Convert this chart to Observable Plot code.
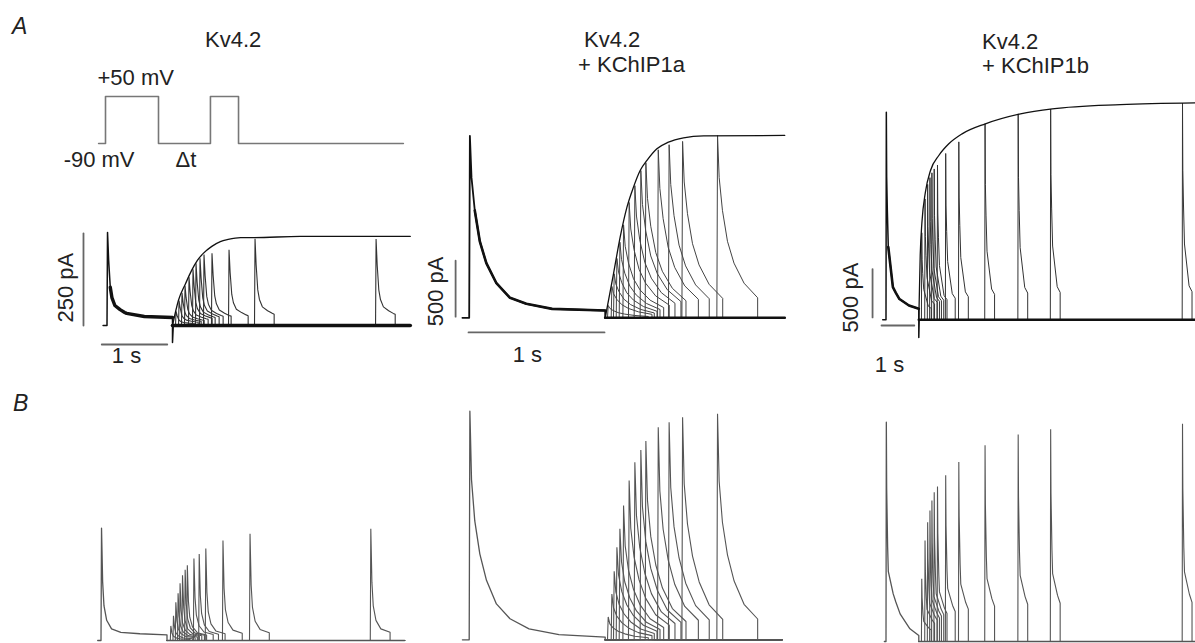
<!DOCTYPE html>
<html><head><meta charset="utf-8">
<script src="https://cdn.jsdelivr.net/npm/d3@7"></script>
<script src="https://cdn.jsdelivr.net/npm/@observablehq/plot@0.6"></script>
<style>
body{margin:0;background:#fff;}
#fig{position:relative;width:1195px;height:643px;overflow:hidden;font-family:"Liberation Sans",Arial,sans-serif;color:#222;background:#fff;}
.lbl{position:absolute;font-size:22px;line-height:22px;white-space:nowrap;}
</style></head><body><div id="fig"></div>
<script>
// ================= DATA =================
// Voltage protocol (arbitrary time units, mV)
const protocolTime = [-0.13, 0, 0, 1, 1, 1.98, 1.98, 2.51, 2.51, 5.62];
const protocolVolt = [-90, -90, 50, 50, -90, -90, 50, 50, -90, -90];
const protocolLabels = ["+50 mV", "-90 mV", "\u0394t"];

// Column titles
const titles1 = ["Kv4.2"];
const titles2 = ["Kv4.2", "+ KChIP1a"];
const titles3 = ["Kv4.2", "+ KChIP1b"];
const panelLetters = ["A", "B"];
const scaleLabels1 = ["250 pA", "1 s"];
const scaleLabels2 = ["500 pA", "1 s"];
const scaleLabels3 = ["500 pA", "1 s"];
const scaleAmp1 = 250, scaleAmp2 = 500, scaleAmp3 = 500, scaleDur = 1; // pA, s

// ---- A: recorded currents (pA), time in s; prepulse 1 s, test pulse 0.3 s ----
// decay shape of a pulse: time since onset (s) and fraction of peak
const decayTimeA1 = [0, 0.008, 0.025, 0.05, 0.075, 0.12, 0.2, 0.27, 0.3, 0.57, 1.0];
const decayFracA1 = [0, 1, 0.70, 0.41, 0.30, 0.215, 0.17, 0.14, 0.13, 0.097, 0.086];
const prePeakA1 = 253;
const intervalsA1 = [0.046, 0.092, 0.137, 0.183, 0.244, 0.305, 0.351, 0.412, 0.473, 0.595, 0.855, 1.252, 3.1];
const testPeaksA1 = [38, 68, 89, 108, 132, 153, 169, 183, 193, 196, 206, 236, 235];
const envTimeA1 = [0, 0.09, 0.2, 0.29, 0.38, 0.47, 0.6, 0.73, 0.85, 1.04, 1.25, 1.95, 3.63];
const envCurrA1 = [0, 68, 114, 149, 177, 196, 215, 228, 234, 239, 239, 242, 242];

const decayTimeA2 = [0, 0.005, 0.017, 0.041, 0.078, 0.126, 0.2, 0.3, 0.42, 0.61, 1.0];
const decayFracA2 = [0, 1, 0.77, 0.59, 0.42, 0.30, 0.19, 0.11, 0.077, 0.049, 0.040];
const prePeakA2 = 1625;
const intervals2 = [0.017, 0.044, 0.061, 0.081, 0.103, 0.13, 0.171, 0.213, 0.257, 0.294, 0.385, 0.465, 0.564, 0.821];
const testPeaksA2 = [110, 280, 393, 530, 675, 830, 1030, 1180, 1315, 1385, 1500, 1545, 1575, 1627];
const envTimeA2 = [0, 0.061, 0.11, 0.16, 0.208, 0.257, 0.307, 0.38, 0.465, 0.576, 0.723, 1.32];
const envCurrA2 = [0, 393, 720, 988, 1167, 1315, 1405, 1509, 1568, 1607, 1625, 1628];

const decayTimeA3 = [0, 0.01, 0.02, 0.04, 0.07, 0.21, 0.3, 0.41, 0.7, 1.0];
const decayFracA3 = [0, 1, 0.69, 0.53, 0.35, 0.157, 0.13, 0.10, 0.069, 0.053];
const prePeakA3 = 2147;
const intervals3 = [0.08, 0.18, 0.26, 0.33, 0.39, 0.46, 0.56, 0.81, 1.21, 2.01, 3.02, 4.01, 8.03];
const testPeaksA3 = [900, 1250, 1400, 1470, 1520, 1560, 1600, 1720, 1840, 2027, 2130, 2180, 2240];
const envTimeA3 = [0, 0.043, 0.095, 0.2, 0.357, 0.61, 0.915, 1.32, 2.03, 3.1, 4.07, 6.15, 8.45];
const envCurrA3 = [0, 665, 1006, 1317, 1544, 1699, 1820, 1923, 2027, 2130, 2182, 2226, 2244];

// ---- B: model currents (fraction of first peak) ----
const decayTimeB1 = [0, 0.008, 0.025, 0.045, 0.086, 0.16, 0.3, 0.59, 1.0];
const decayFracB1 = [0, 1, 0.52, 0.31, 0.18, 0.104, 0.073, 0.06, 0.05];
const intervalsB1 = [0.05, 0.09, 0.126, 0.16, 0.19, 0.227, 0.267, 0.30, 0.40, 0.48, 0.58, 0.84, 1.25, 3.08];
const testPeaksB1 = [0.13, 0.22, 0.34, 0.42, 0.51, 0.58, 0.63, 0.67, 0.73, 0.77, 0.82, 0.89, 0.95, 0.995];

const decayTimeB2 = [0, 0.005, 0.017, 0.041, 0.078, 0.127, 0.2, 0.3, 0.44, 0.66, 1.0];
const decayFracB2 = [0, 1, 0.70, 0.52, 0.376, 0.26, 0.157, 0.092, 0.048, 0.023, 0.012];
const testPeaksB2 = [0.10, 0.20, 0.30, 0.405, 0.486, 0.587, 0.697, 0.777, 0.83, 0.87, 0.93, 0.952, 0.974, 0.989];

const decayTimeB3 = [0, 0.01, 0.02, 0.05, 0.07, 0.22, 0.3, 0.43, 0.73, 1.0];
const decayFracB3 = [0, 1, 0.70, 0.43, 0.32, 0.217, 0.18, 0.126, 0.058, 0.027];
const testPeaksB3 = [0.286, 0.46, 0.544, 0.597, 0.643, 0.681, 0.707, 0.758, 0.819, 0.895, 0.944, 0.968, 0.993];

// ================= LAYOUT (pixels) =================
// x0: pixel of t=0, k: px per s; base: pixel of value 0, s: px per unit
const layout = {
  P:  {left: 40,  top: 60,  w: 380, h: 120, x0: 105,   k: 53,   base: 112.8, s: 0.3357},
  A1: {left: 40,  top: 85,  w: 375, h: 295, x0: 106.5, k: 65.5, base: 325,   s: 0.368},
  A2: {left: 415, top: 85,  w: 385, h: 295, x0: 468.7, k: 136,  base: 317.3, s: 0.112},
  A3: {left: 820, top: 85,  w: 375, h: 295, x0: 885.5, k: 32.8, base: 319.3, s: 0.0967},
  B1: {left: 40,  top: 385, w: 375, h: 258, x0: 100.5, k: 66,   base: 640,   s: 112.3},
  B2: {left: 415, top: 385, w: 385, h: 258, x0: 468.7, k: 136,  base: 639.3, s: 228.6},
  B3: {left: 820, top: 385, w: 375, h: 258, x0: 885.5, k: 32.8, base: 641,   s: 219.3}
};
const FONT = "Liberation Sans, Arial, sans-serif";
const fig = document.getElementById("fig");

function addPlot(g, marks) {
  const tmin = (g.left - g.x0) / g.k, tmax = (g.left + g.w - g.x0) / g.k;
  const vtop = (g.base - g.top) / g.s, vbot = (g.base - g.top - g.h) / g.s;
  const svg = Plot.plot({
    width: g.w, height: g.h, margin: 0,
    x: {domain: [tmin, tmax], axis: null},
    y: {domain: [vbot, vtop], axis: null},
    style: {background: "transparent"},
    marks
  });
  svg.style.position = "absolute";
  svg.style.left = g.left + "px";
  svg.style.top = g.top + "px";
  fig.appendChild(svg);
}

function traceMarks(c) {
  const pre = [{t: c.tPre, v: 0}, {t: 0, v: 0}];
  c.decayT.forEach((t, j) => pre.push({t, v: c.prePeak * c.decayF[j]}));
  pre.push({t: 1, v: 0});
  if (c.spike) { pre.push({t: 1, v: c.spike}); pre.push({t: 1.012, v: 0}); }
  // noisy (thick) part of the prepulse trace: after the fast initial decay
  const preTail = [];
  c.decayT.forEach((t, j) => { if (t >= c.thickFrom) preTail.push({t, v: c.prePeak * c.decayF[j]}); });
  const base = [{t: 1, v: 0}, {t: c.tEnd, v: 0}];
  const tests = [];
  c.dts.forEach((dt, k) => {
    tests.push({z: k, t: 1, v: 0});
    tests.push({z: k, t: 1 + dt, v: 0});
    c.decayT.forEach((t, j) => { if (t <= 0.3 + 1e-9) tests.push({z: k, t: 1 + dt + t, v: c.peaks[k] * c.decayF[j]}); });
    tests.push({z: k, t: 1 + dt + 0.3, v: 0});
    tests.push({z: k, t: c.tEnd, v: 0});
  });
  const marks = [
    Plot.line(tests, {x: "t", y: "v", z: "z", stroke: c.testColor, strokeWidth: c.testWidth, strokeLinejoin: "miter"}),
    Plot.line(base, {x: "t", y: "v", stroke: c.preColor, strokeWidth: c.baseWidth}),
    Plot.line(pre, {x: "t", y: "v", stroke: c.preColor, strokeWidth: c.preWidth}),
    Plot.line(preTail, {x: "t", y: "v", stroke: c.preColor, strokeWidth: c.tailWidth})
  ];
  if (c.envT) {
    const env = c.envT.map((t, j) => ({t: 1 + t, v: c.envV[j]}));
    marks.push(Plot.line(env, {x: "t", y: "v", curve: "monotone-x", stroke: "#111", strokeWidth: 1.3}));
  }
  return marks;
}

function scaleBarMarks(sb, labels) {
  const textOpts = {fontSize: 22, fontFamily: FONT, fill: "#222"};
  return [
    Plot.line([{t: sb.vt, v: sb.v0}, {t: sb.vt, v: sb.v0 + sb.amp}], {x: "t", y: "v", stroke: "#666", strokeWidth: 1.8}),
    Plot.line([{t: sb.h0, v: sb.hv}, {t: sb.h0 + scaleDur, v: sb.hv}], {x: "t", y: "v", stroke: "#666", strokeWidth: 1.8}),
    Plot.text([labels[0]], {x: () => sb.lt, y: () => sb.lv, text: d => d, rotate: -90, ...textOpts}),
    Plot.text([labels[1]], {x: () => sb.st, y: () => sb.sv, text: d => d, ...textOpts})
  ];
}

// ---- protocol ----
{
  const pts = protocolTime.map((t, j) => ({t, v: protocolVolt[j]}));
  const lab = [
    {text: protocolLabels[0], t: -0.151, v: 105},
    {text: protocolLabels[1], t: -0.79, v: -139},
    {text: protocolLabels[2], t: 1.32, v: -139}
  ];
  addPlot(layout.P, [
    Plot.line(pts, {x: "t", y: "v", stroke: "#777", strokeWidth: 1.6}),
    Plot.text(lab, {x: "t", y: "v", text: "text", textAnchor: "start", fontSize: 22, fontFamily: FONT, fill: "#222"})
  ]);
}

// ---- Row A ----
addPlot(layout.A1, [
  ...traceMarks({decayT: decayTimeA1, decayF: decayFracA1, prePeak: prePeakA1, dts: intervalsA1, peaks: testPeaksA1,
    envT: envTimeA1, envV: envCurrA1, tPre: -0.06, tEnd: 4.63, spike: -46, thickFrom: 0.05,
    preColor: "#111", preWidth: 1.5, tailWidth: 3.4, baseWidth: 3.6, testColor: "#333", testWidth: 1.1}),
  ...scaleBarMarks({vt: -0.359, v0: 0, amp: scaleAmp1, h0: -0.08, hv: -51.6, lt: -0.634, lv: 103, st: 0.298, sv: -81.5}, scaleLabels1)
]);
addPlot(layout.A2, [
  ...traceMarks({decayT: decayTimeA2, decayF: decayFracA2, prePeak: prePeakA2, dts: intervals2, peaks: testPeaksA2,
    envT: envTimeA2, envV: envCurrA2, tPre: -0.05, tEnd: 2.32, spike: null, thickFrom: 0.041,
    preColor: "#111", preWidth: 1.8, tailWidth: 2.6, baseWidth: 2.6, testColor: "#444", testWidth: 1}),
  ...scaleBarMarks({vt: -0.1, v0: 10, amp: scaleAmp2, h0: -0.005, hv: -131, lt: -0.248, lv: 236, st: 0.428, sv: -336}, scaleLabels2)
]);
addPlot(layout.A3, [
  ...traceMarks({decayT: decayTimeA3, decayF: decayFracA3, prePeak: prePeakA3, dts: intervals3, peaks: testPeaksA3,
    envT: envTimeA3, envV: envCurrA3, tPre: -0.1, tEnd: 9.6, spike: -183, thickFrom: 0.07,
    preColor: "#111", preWidth: 1.5, tailWidth: 2.6, baseWidth: 2.6, testColor: "#333", testWidth: 1}),
  ...scaleBarMarks({vt: -0.41, v0: 25, amp: scaleAmp3, h0: -0.137, hv: -59, lt: -1.082, lv: 230, st: 0.107, sv: -472}, scaleLabels3)
]);

// ---- Row B ----
addPlot(layout.B1, traceMarks({decayT: decayTimeB1, decayF: decayFracB1, prePeak: 1, dts: intervalsB1, peaks: testPeaksB1,
  envT: null, tPre: -0.05, tEnd: 4.6, spike: null, thickFrom: 2, preColor: "#555", preWidth: 1.3, tailWidth: 1.3, baseWidth: 1.3, testColor: "#555", testWidth: 1.1}));
addPlot(layout.B2, traceMarks({decayT: decayTimeB2, decayF: decayFracB2, prePeak: 1, dts: intervals2, peaks: testPeaksB2,
  envT: null, tPre: -0.05, tEnd: 2.3, spike: null, thickFrom: 2, preColor: "#555", preWidth: 1.3, tailWidth: 1.3, baseWidth: 1.3, testColor: "#555", testWidth: 1.1}));
addPlot(layout.B3, traceMarks({decayT: decayTimeB3, decayF: decayFracB3, prePeak: 1, dts: intervals3, peaks: testPeaksB3,
  envT: null, tPre: -0.05, tEnd: 9.6, spike: null, thickFrom: 2, preColor: "#555", preWidth: 1.3, tailWidth: 1.3, baseWidth: 1.3, testColor: "#555", testWidth: 1.1}));

// ---- HTML labels ----
function addLabel(text, left, top, extra) {
  const d = document.createElement("div");
  d.className = "lbl";
  d.textContent = text;
  d.style.left = left + "px";
  d.style.top = top + "px";
  if (extra) Object.assign(d.style, extra);
  fig.appendChild(d);
}
addLabel(panelLetters[0], 12, 15, {fontStyle: "italic", fontSize: "23px"});
addLabel(panelLetters[1], 13, 392, {fontStyle: "italic", fontSize: "23px"});
addLabel(titles1[0], 205, 29);
addLabel(titles2[0], 584, 29);
addLabel(titles2[1], 578, 54);
addLabel(titles3[0], 982, 31);
addLabel(titles3[1], 982, 55);
</script></body></html>
